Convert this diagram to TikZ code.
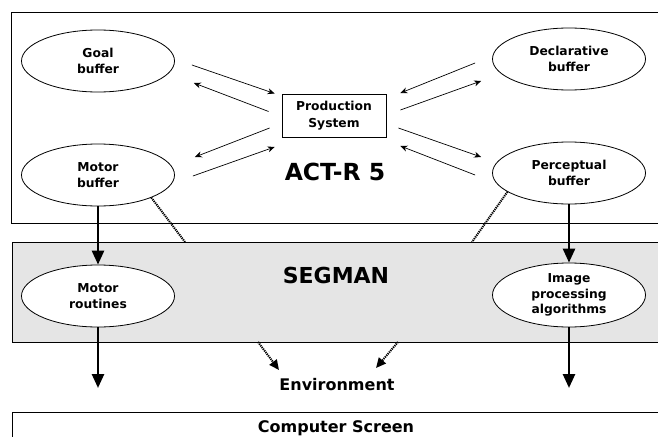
\documentclass[tikz,border=0pt]{standalone}
\usepackage{fontspec}
\setmainfont{DejaVu Sans}
\usetikzlibrary{shapes.geometric, arrows.meta}

\begin{document}
\begin{tikzpicture}[
        x=1pt, y=-1pt,
        buffer/.style={
            % The shape:
            ellipse,
            % The size:
            minimum width=153pt,
            minimum height=62pt,
            inner sep=0pt,
            % The border
            draw=black,
            line width=0.8pt,
            % The filling
            fill=white,
            % Font
            font=\bfseries\fontsize{12.3}{16.5}\selectfont,
            align=center
        },
        layer/.style={
            rectangle,
            anchor=north west,
            minimum width=654pt,
            draw=black,
            line width=0.8pt
        },
        bigtext/.style={font=\bfseries\fontsize{23.5}{27}\selectfont},
        midtext/.style={font=\bfseries\fontsize{16}{19}\selectfont},
        link/.style={-{Stealth[length=7pt,width=6pt]}, line width=0.7pt},
        flow/.style={-{Triangle[length=14pt,width=12pt]}, line width=2.6pt},
        hint/.style={line width=2pt, dash pattern=on 1.2pt off 0.9pt}
    ]

    \clip (0,0) rectangle (658,436);

    % the three layers
    \node [layer, minimum height=211pt] (actbox) at (11,12) {};
    \node [layer, minimum height=100pt, fill=black!10] (segbox) at (12,242) {};
    \node [layer, minimum height=40pt] (screenbox) at (12,412) {};

    \node [bigtext] (actr) at (335,172) {ACT-R 5};
    \node [bigtext, font=\bfseries\fontsize{22}{26}\selectfont] (segman) at (336,275) {SEGMAN};
    \node [midtext] (env) at (337,385) {Environment};
    \node [midtext] (screen) at (336,428) {Computer Screen};

    % buffers
    \node [buffer] (goal) at (98,61) {Goal\\buffer};
    \node [buffer] (motor) at (98,175) {Motor\\buffer};
    \node [buffer] (decl) at (569,59) {Declarative\\buffer};
    \node [buffer] (percep) at (569,173) {Perceptual\\buffer};
    \node [buffer] (routines) at (98,296) {Motor\\routines};
    \node [buffer, minimum height=64pt, font=\bfseries\fontsize{12.3}{15.5}\selectfont] (image) at (569,295) {Image\\processing\\algorithms};

    \node [draw=black, line width=0.8pt, minimum width=104pt, minimum height=43pt,
           align=center, font=\bfseries\fontsize{12.3}{16.5}\selectfont] (prod) at (334,115.5) {Production\\System};

    % to and from the production system
    \draw [link] ([shift={(17,4)}]goal.east) -- ([shift={(-7,-22)}]prod.west);
    \draw [link] ([shift={(-13,-4)}]prod.west) -- ([shift={(19,22)}]goal.east);
    \draw [link] ([shift={(-12,12.5)}]prod.west) -- ([shift={(20,-18)}]motor.east);
    \draw [link] ([shift={(18,1)}]motor.east) -- ([shift={(-7,31.5)}]prod.west);
    \draw [link] ([shift={(-17,4)}]decl.west) -- ([shift={(14,-22.5)}]prod.east);
    \draw [link] ([shift={(14,-5.5)}]prod.east) -- ([shift={(-11,22)}]decl.west);
    \draw [link] ([shift={(12,12.5)}]prod.east) -- ([shift={(-11,-16)}]percep.west);
    \draw [link] ([shift={(-17,2)}]percep.west) -- ([shift={(14,30.5)}]prod.east);

    % down to the screen
    \coordinate (motorout) at (98,388);
    \coordinate (imageout) at (569,388);
    \draw [flow] (motor) -- (routines);
    \draw [flow] (percep) -- (image);
    \foreach \n/\out in {routines/motorout, image/imageout}
        \draw [flow] (\n) -- (\out);

    % dotted links through SEGMAN
    \coordinate (segin1) at (185,242);
    \coordinate (segin2) at (472,242);
    \coordinate (segout1) at (258,342);
    \coordinate (segout2) at (398,342);
    \draw [hint] (motor.-23) -- (segin1);
    \draw [hint] (percep.197) -- (segin2);
    \draw [hint, -{Triangle[length=10pt,width=9pt]}] (segout1) -- ([shift={(-58,-15)}]env.center);
    \draw [hint, -{Triangle[length=10pt,width=9pt]}] (segout2) -- ([shift={(39,-17)}]env.center);

\end{tikzpicture}
\end{document}
